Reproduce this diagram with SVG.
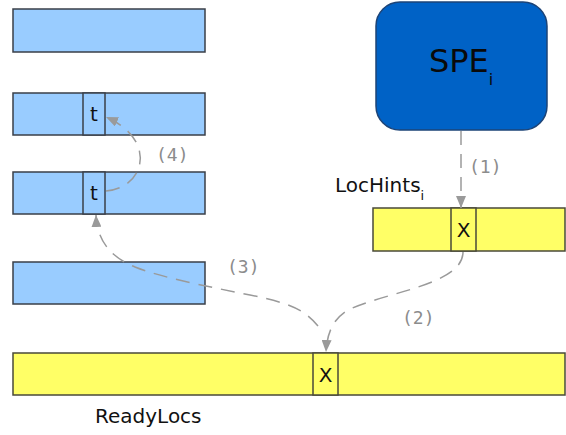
<svg xmlns="http://www.w3.org/2000/svg" width="566" height="435" viewBox="0 0 566 435">
  <style>
    .blue { fill: #99ccff; stroke: #3a3f48; stroke-width: 1.5; }
    .yellow { fill: #ffff66; stroke: #4a4a3a; stroke-width: 1.5; }
    .cell { font-family: "DejaVu Sans", "Liberation Sans", sans-serif; font-size: 20px; fill: #111; text-anchor: middle; }
    .name { font-family: "DejaVu Sans", "Liberation Sans", sans-serif; font-size: 20px; fill: #111; }
    .step { font-family: "DejaVu Sans Mono", "Liberation Mono", monospace; font-size: 18px; fill: #8c8c8c; }
    .flow { fill: none; stroke: #9a9a9a; stroke-width: 1.5; stroke-dasharray: 14 9; }
  </style>
  <defs>
    <marker id="head" viewBox="0 0 12 10" refX="12" refY="5" markerWidth="12" markerHeight="10" markerUnits="userSpaceOnUse" orient="auto">
      <path d="M0,0 L12,5 L0,10 Z" fill="#9a9a9a"/>
    </marker>
  </defs>

  <rect width="566" height="435" fill="#ffffff"/>

  <!-- left blocks -->
  <g id="block1">
    <rect class="blue" x="13" y="9" width="192" height="43"/>
  </g>
  <g id="block2">
    <rect class="blue" x="13" y="93" width="192" height="42"/>
    <rect class="blue" x="83" y="93" width="22" height="42"/>
    <text class="cell" x="94" y="121">t</text>
  </g>
  <g id="block3">
    <rect class="blue" x="13" y="172" width="192" height="42"/>
    <rect class="blue" x="83" y="172" width="22" height="42"/>
    <text class="cell" x="94" y="200">t</text>
  </g>
  <g id="block4">
    <rect class="blue" x="13" y="262" width="192" height="42"/>
  </g>

  <!-- SPE -->
  <g id="spe">
    <rect x="376" y="2" width="171" height="128" rx="24" ry="24" fill="#0062c6" stroke="#1d4477" stroke-width="1.5"/>
    <text x="429" y="72" font-family="DejaVu Sans, Liberation Sans, sans-serif" font-size="32" fill="#0a0a0a">SPE<tspan font-size="16" dy="13">i</tspan></text>
  </g>

  <!-- LocHints -->
  <g id="lochints">
    <rect class="yellow" x="373" y="208" width="192" height="43"/>
    <rect class="yellow" x="451" y="208" width="25" height="43"/>
    <text class="cell" x="463.5" y="237" font-size="19">X</text>
    <text class="name" x="335" y="192">LocHints<tspan font-size="13" dy="8">i</tspan></text>
  </g>

  <!-- ReadyLocs -->
  <g id="readylocs">
    <rect class="yellow" x="13" y="353" width="552" height="42"/>
    <rect class="yellow" x="313" y="353" width="25" height="42"/>
    <text class="cell" x="325.5" y="382" font-size="19">X</text>
    <text class="name" x="95" y="423" font-size="21">ReadyLocs</text>
  </g>

  <!-- connectors -->
  <g id="connectors">
    <path class="flow" d="M461,131 L461,208" marker-end="url(#head)"/>
    <path class="flow" d="M463,252 C463,285 385,292 348,310 C334,318 327,332 326,352" marker-end="url(#head)"/>
    <path class="flow" d="M318,326 C305,310 290,303 250,295 C200,285 160,277 135,267 C110,257 97,240 96,215" marker-end="url(#head)"/>
    <path class="flow" d="M106,191 C145,188 158,140 106,117" marker-end="url(#head)"/>
  </g>

  <!-- step labels -->
  <g id="labels">
    <text class="step" x="469" y="173">(1)</text>
    <text class="step" x="402" y="324">(2)</text>
    <text class="step" x="227" y="273">(3)</text>
    <text class="step" x="156" y="161">(4)</text>
  </g>
</svg>
